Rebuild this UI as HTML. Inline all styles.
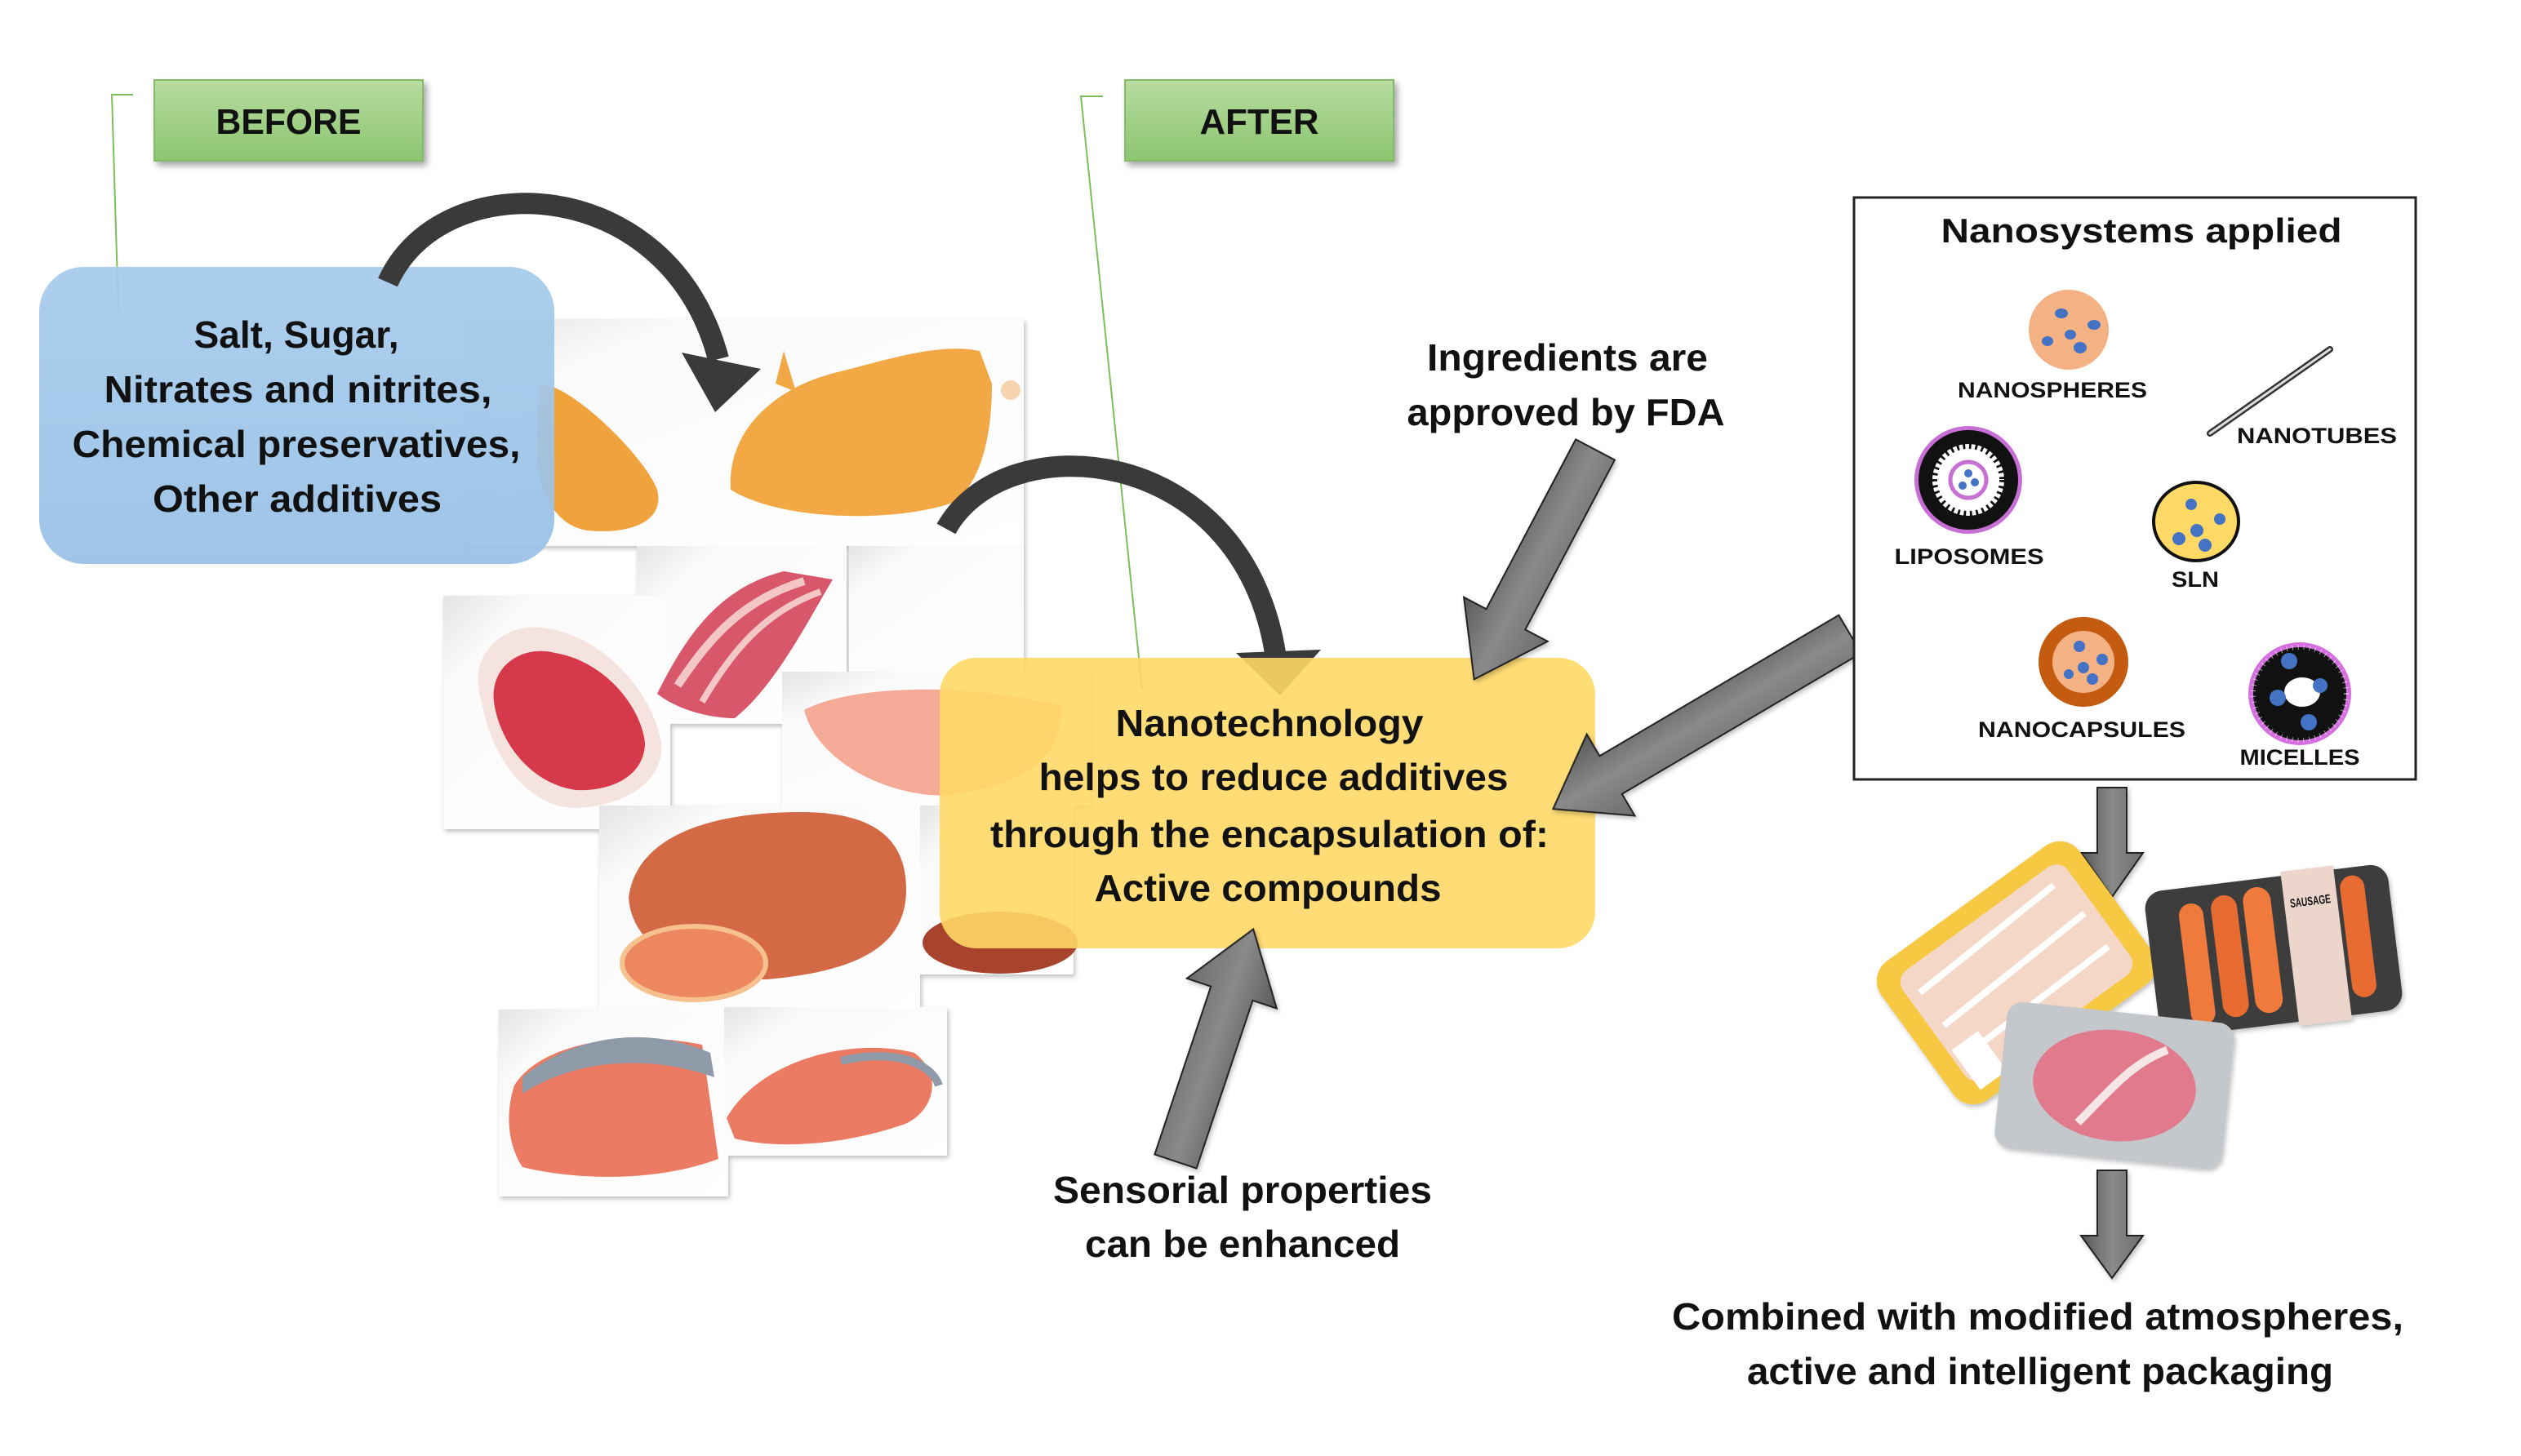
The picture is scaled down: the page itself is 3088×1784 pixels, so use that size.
<!DOCTYPE html>
<html><head><meta charset="utf-8"><style>
html,body{margin:0;padding:0;background:#fff;}
svg{display:block;}
text{font-family:"Liberation Sans",sans-serif;font-weight:bold;fill:#111;}
</style></head><body>
<svg width="3088" height="1784" viewBox="0 0 3088 1784" xmlns="http://www.w3.org/2000/svg">
<defs>
<linearGradient id="gGreen" x1="0" y1="0" x2="0" y2="1"><stop offset="0" stop-color="#b7dca0"/><stop offset="1" stop-color="#8cc56f"/></linearGradient>
<linearGradient id="gBlue" x1="0" y1="0" x2="0" y2="1"><stop offset="0" stop-color="#a6cbec"/><stop offset="1" stop-color="#98c0e6"/></linearGradient>
<linearGradient id="gYel" x1="0" y1="0" x2="0" y2="1"><stop offset="0" stop-color="#ffd966"/><stop offset="1" stop-color="#ffd866"/></linearGradient>
<linearGradient id="gArr" x1="0" y1="0" x2="0" y2="1"><stop offset="0" stop-color="#6d6d6d"/><stop offset="0.5" stop-color="#8a8a8a"/><stop offset="1" stop-color="#5a5a5a"/></linearGradient>
<linearGradient id="tile" x1="0" y1="0" x2="1" y2="1"><stop offset="0" stop-color="#e4e4e4"/><stop offset="0.2" stop-color="#fafafa"/><stop offset="1" stop-color="#ffffff"/></linearGradient>
<filter id="sh" x="-10%" y="-10%" width="130%" height="130%"><feDropShadow dx="4" dy="5" stdDeviation="4" flood-color="#000" flood-opacity="0.35"/></filter>
<filter id="sh2" x="-10%" y="-10%" width="130%" height="130%"><feDropShadow dx="2" dy="3" stdDeviation="3" flood-color="#000" flood-opacity="0.25"/></filter>
</defs>

<g filter="url(#sh2)">
<rect x="571" y="391" width="683" height="278" fill="url(#tile)"/>
<rect x="1040" y="669" width="214" height="154" fill="url(#tile)"/>
<rect x="780" y="669" width="257" height="218" fill="url(#tile)"/>
<rect x="543" y="730" width="278" height="286" fill="url(#tile)"/>
<rect x="958" y="823" width="378" height="164" fill="url(#tile)"/>
<rect x="734" y="987" width="393" height="257" fill="url(#tile)"/>
<rect x="1127" y="987" width="188" height="207" fill="url(#tile)"/>
<rect x="611" y="1237" width="281" height="229" fill="url(#tile)"/>
<rect x="887" y="1234" width="273" height="182" fill="url(#tile)"/>
</g>
<path d="M660,470 C700,470 790,560 805,600 C815,640 770,655 720,650 C680,645 655,600 658,540 Z" fill="#f0a23c"/>
<path d="M895,600 C890,520 960,470 1030,455 C1090,440 1150,420 1200,430 L1215,470 C1215,540 1200,590 1170,615 C1100,640 960,640 895,600 Z" fill="#f2a845"/>
<path d="M950,470 L960,430 L975,480 Z" fill="#f2a845"/>
<circle cx="1238" cy="478" r="12" fill="#f7d4b0"/>
<path d="M805,850 C840,780 880,720 960,700 L1020,710 C990,760 950,840 900,880 C870,880 830,870 805,850 Z" fill="#d8576a"/>
<path d="M830,840 C870,780 910,735 985,712" stroke="#f4c7c7" stroke-width="10" fill="none"/>
<path d="M860,860 C895,800 935,750 1005,725" stroke="#f4c7c7" stroke-width="8" fill="none"/>
<path d="M590,860 C570,800 620,760 670,770 C740,780 800,850 810,910 C815,960 760,990 700,990 C640,985 600,920 590,860 Z" fill="#f5e3e0"/>
<path d="M605,860 C600,815 640,790 680,800 C740,810 785,865 790,910 C790,950 750,970 705,968 C650,960 612,910 605,860 Z" fill="#d6394a"/>
<path d="M985,870 C1040,840 1180,835 1300,865 C1300,930 1260,960 1160,975 C1080,975 1000,930 985,870 Z" fill="#f4aa97"/>
<path d="M770,1100 C780,1020 880,995 980,995 C1060,995 1110,1020 1110,1090 C1110,1160 1050,1190 940,1200 C860,1200 775,1170 770,1100 Z" fill="#d46a45"/>
<ellipse cx="850" cy="1180" rx="88" ry="45" fill="#ec8760" stroke="#f6c18f" stroke-width="6"/>
<ellipse cx="1225" cy="1155" rx="95" ry="38" fill="#a8442e"/>
<path d="M630,1330 C660,1280 760,1260 860,1280 L880,1420 C800,1450 700,1445 640,1430 C620,1400 620,1360 630,1330 Z" fill="#ec7b63"/>
<path d="M640,1320 C700,1270 790,1255 870,1290 L875,1320 C790,1290 700,1300 640,1340 Z" fill="#8e9aa8"/>
<path d="M890,1370 C930,1300 1040,1270 1120,1290 C1160,1320 1140,1370 1100,1380 C1040,1400 960,1410 900,1395 Z" fill="#ec7b63"/>
<path d="M1030,1300 C1090,1285 1140,1300 1150,1330" stroke="#8e9aa8" stroke-width="10" fill="none"/>

<polyline points="163,116 137,116 145,380" fill="none" stroke="#7cbf5a" stroke-width="2"/>
<polyline points="1351,118 1324,118 1399,845" fill="none" stroke="#7cbf5a" stroke-width="2"/>

<rect x="189" y="98" width="329" height="99" fill="url(#gGreen)" stroke="#86b96a" stroke-width="2" filter="url(#sh)"/>
<text x="353.5" y="164" text-anchor="middle" font-size="44" textLength="178" lengthAdjust="spacingAndGlyphs">BEFORE</text>
<rect x="1378" y="98" width="329" height="99" fill="url(#gGreen)" stroke="#86b96a" stroke-width="2" filter="url(#sh)"/>
<text x="1542.5" y="164" text-anchor="middle" font-size="44" textLength="146" lengthAdjust="spacingAndGlyphs">AFTER</text>

<rect x="48" y="327" width="631" height="364" rx="55" fill="url(#gBlue)" opacity="0.93"/>
<g font-size="46" text-anchor="middle">
<text x="363" y="426" textLength="251" lengthAdjust="spacingAndGlyphs">Salt, Sugar,</text>
<text x="365" y="493" textLength="475" lengthAdjust="spacingAndGlyphs">Nitrates and nitrites,</text>
<text x="363" y="560" textLength="549" lengthAdjust="spacingAndGlyphs">Chemical preservatives,</text>
<text x="364" y="627" textLength="354" lengthAdjust="spacingAndGlyphs">Other additives</text>
</g>

<path d="M475,346 C540,200 820,210 880,440" fill="none" stroke="#3a3a3a" stroke-width="26"/>
<polygon points="835,432 932,452 876,505" fill="#3a3a3a"/>
<path d="M1159,648 C1230,520 1520,540 1562,800" fill="none" stroke="#3a3a3a" stroke-width="26"/>
<polygon points="1514,800 1618,796 1568,852" fill="#3a3a3a"/>

<rect x="1151" y="806" width="803" height="356" rx="45" fill="url(#gYel)" opacity="0.9"/>
<g font-size="46" text-anchor="middle">
<text x="1555" y="902" textLength="377" lengthAdjust="spacingAndGlyphs">Nanotechnology</text>
<text x="1560" y="968" textLength="575" lengthAdjust="spacingAndGlyphs">helps to reduce additives</text>
<text x="1555" y="1038" textLength="684" lengthAdjust="spacingAndGlyphs">through the encapsulation of:</text>
<text x="1553" y="1104" textLength="425" lengthAdjust="spacingAndGlyphs">Active compounds</text>
</g>

<g fill="url(#gArr)" stroke="#222" stroke-width="2" filter="url(#sh2)">
<g transform="translate(1954,551) rotate(117.8)"><polygon points="0,-27 235,-27 235,-58 318,0 235,58 235,27 0,27"/></g>
<g transform="translate(2266,777) rotate(149.5)"><polygon points="0,-27 340,-27 340,-58 422,0 340,58 340,27 0,27"/></g>
<g transform="translate(1440,1423) rotate(-71.5)"><polygon points="0,-27 217,-27 217,-58 300,0 217,58 217,27 0,27"/></g>
<g transform="translate(2587,965) rotate(90)"><polygon points="0,-18 80,-18 80,-38 134,0 80,38 80,18 0,18"/></g>
<g transform="translate(2587,1434) rotate(90)"><polygon points="0,-18 80,-18 80,-38 132,0 80,38 80,18 0,18"/></g>
</g>

<g font-size="46" text-anchor="middle">
<text x="1920" y="454" textLength="344" lengthAdjust="spacingAndGlyphs">Ingredients are</text>
<text x="1918" y="521" textLength="389" lengthAdjust="spacingAndGlyphs">approved by FDA</text>
<text x="1522" y="1474" textLength="464" lengthAdjust="spacingAndGlyphs">Sensorial properties</text>
<text x="1522" y="1540" textLength="386" lengthAdjust="spacingAndGlyphs">can be enhanced</text>
<text x="2496" y="1629" textLength="896" lengthAdjust="spacingAndGlyphs">Combined with modified atmospheres,</text>
<text x="2499" y="1696" textLength="718" lengthAdjust="spacingAndGlyphs">active and intelligent packaging</text>
</g>

<rect x="2271" y="242" width="688" height="713" fill="#fff" stroke="#222" stroke-width="3"/>
<text x="2623" y="297" text-anchor="middle" font-size="42" textLength="491" lengthAdjust="spacingAndGlyphs">Nanosystems applied</text>
<circle cx="2534" cy="404" r="49" fill="#f4b183"/>
<g fill="#4472c4"><ellipse cx="2525" cy="384" rx="8" ry="6"/><ellipse cx="2565" cy="398" rx="8" ry="6"/><ellipse cx="2508" cy="418" rx="7" ry="6"/><ellipse cx="2536" cy="410" rx="7" ry="6"/><ellipse cx="2548" cy="426" rx="8" ry="7"/></g>
<text x="2514" y="487" text-anchor="middle" font-size="27" textLength="232" lengthAdjust="spacingAndGlyphs">NANOSPHERES</text>
<line x1="2707" y1="531" x2="2854" y2="428" stroke="#333" stroke-width="8" stroke-linecap="round"/>
<line x1="2707" y1="531" x2="2854" y2="428" stroke="#ddd" stroke-width="3" stroke-linecap="round"/>
<text x="2838" y="543" text-anchor="middle" font-size="27" textLength="196" lengthAdjust="spacingAndGlyphs">NANOTUBES</text>
<circle cx="2411" cy="588" r="66" fill="#c86fd6"/>
<circle cx="2411" cy="588" r="61" fill="#111"/>
<circle cx="2411" cy="588" r="44" fill="#fff"/>
<circle cx="2411" cy="588" r="44" fill="none" stroke="#111" stroke-width="12" stroke-dasharray="3 5"/>
<circle cx="2411" cy="588" r="22" fill="#fff" stroke="#c86fd6" stroke-width="5"/>
<g fill="#4472c4"><circle cx="2411" cy="580" r="5"/><circle cx="2419" cy="591" r="5"/><circle cx="2404" cy="595" r="5"/></g>
<text x="2412" y="691" text-anchor="middle" font-size="27" textLength="183" lengthAdjust="spacingAndGlyphs">LIPOSOMES</text>
<ellipse cx="2690" cy="639" rx="52" ry="48" fill="#ffd966" stroke="#111" stroke-width="4"/>
<g fill="#4472c4"><circle cx="2684" cy="618" r="7"/><circle cx="2719" cy="636" r="7"/><circle cx="2691" cy="650" r="8"/><circle cx="2669" cy="660" r="8"/><circle cx="2701" cy="668" r="8"/></g>
<text x="2689" y="719" text-anchor="middle" font-size="27" textLength="58" lengthAdjust="spacingAndGlyphs">SLN</text>
<circle cx="2552" cy="811" r="55" fill="#c55a11"/>
<circle cx="2552" cy="811" r="38" fill="#f4b183"/>
<g fill="#4472c4"><circle cx="2547" cy="792" r="7"/><circle cx="2575" cy="808" r="7"/><circle cx="2552" cy="818" r="7"/><circle cx="2534" cy="826" r="6"/><circle cx="2563" cy="832" r="7"/></g>
<text x="2550" y="903" text-anchor="middle" font-size="27" textLength="254" lengthAdjust="spacingAndGlyphs">NANOCAPSULES</text>
<circle cx="2817" cy="850" r="63" fill="#d56fe0"/>
<circle cx="2817" cy="850" r="57" fill="#111"/>
<circle cx="2817" cy="850" r="57" fill="none" stroke="#fff" stroke-width="6" stroke-dasharray="1 6" opacity="0.6"/>
<ellipse cx="2820" cy="848" rx="22" ry="18" fill="#fff"/>
<g fill="#4472c4"><circle cx="2804" cy="810" r="10"/><circle cx="2842" cy="840" r="9"/><circle cx="2790" cy="855" r="10"/><circle cx="2828" cy="885" r="10"/></g>
<text x="2817" y="937" text-anchor="middle" font-size="27" textLength="147" lengthAdjust="spacingAndGlyphs">MICELLES</text>

<g filter="url(#sh2)">
<g transform="translate(2470,1192) rotate(-36)">
<rect x="-150" y="-105" width="300" height="210" rx="30" fill="#f7c842"/>
<rect x="-125" y="-82" width="250" height="164" rx="18" fill="#f5d7c8"/>
<path d="M-110,-50 L100,-60 M-110,0 L110,-10 M-100,45 L110,40" stroke="#fff" stroke-width="8"/>
<rect x="-120" y="30" width="40" height="60" fill="#fff"/>
</g>
<g transform="translate(2785,1165) rotate(-7)">
<rect x="-150" y="-90" width="300" height="180" rx="22" fill="#3c3c3c"/>
<rect x="-110" y="-70" width="30" height="150" rx="15" fill="#f07a3a"/>
<rect x="-70" y="-75" width="32" height="150" rx="16" fill="#e86c30"/>
<rect x="-30" y="-80" width="34" height="155" rx="17" fill="#f07a3a"/>
<rect x="90" y="-80" width="30" height="150" rx="15" fill="#e86c30"/>
<rect x="20" y="-95" width="65" height="190" fill="#ecd6cc"/>
<text x="52" y="-50" text-anchor="middle" font-size="15" textLength="50" lengthAdjust="spacingAndGlyphs" fill="#5a2a2a">SAUSAGE</text>
</g>
<g transform="translate(2590,1330) rotate(6)">
<rect x="-140" y="-90" width="280" height="180" rx="20" fill="#c4c7cb"/>
<ellipse cx="0" cy="0" rx="100" ry="68" fill="#e07a8c"/>
<path d="M-40,50 C0,0 20,-30 60,-50" stroke="#f7e6e6" stroke-width="10" fill="none"/>
</g>
</g>
</svg>
</body></html>
